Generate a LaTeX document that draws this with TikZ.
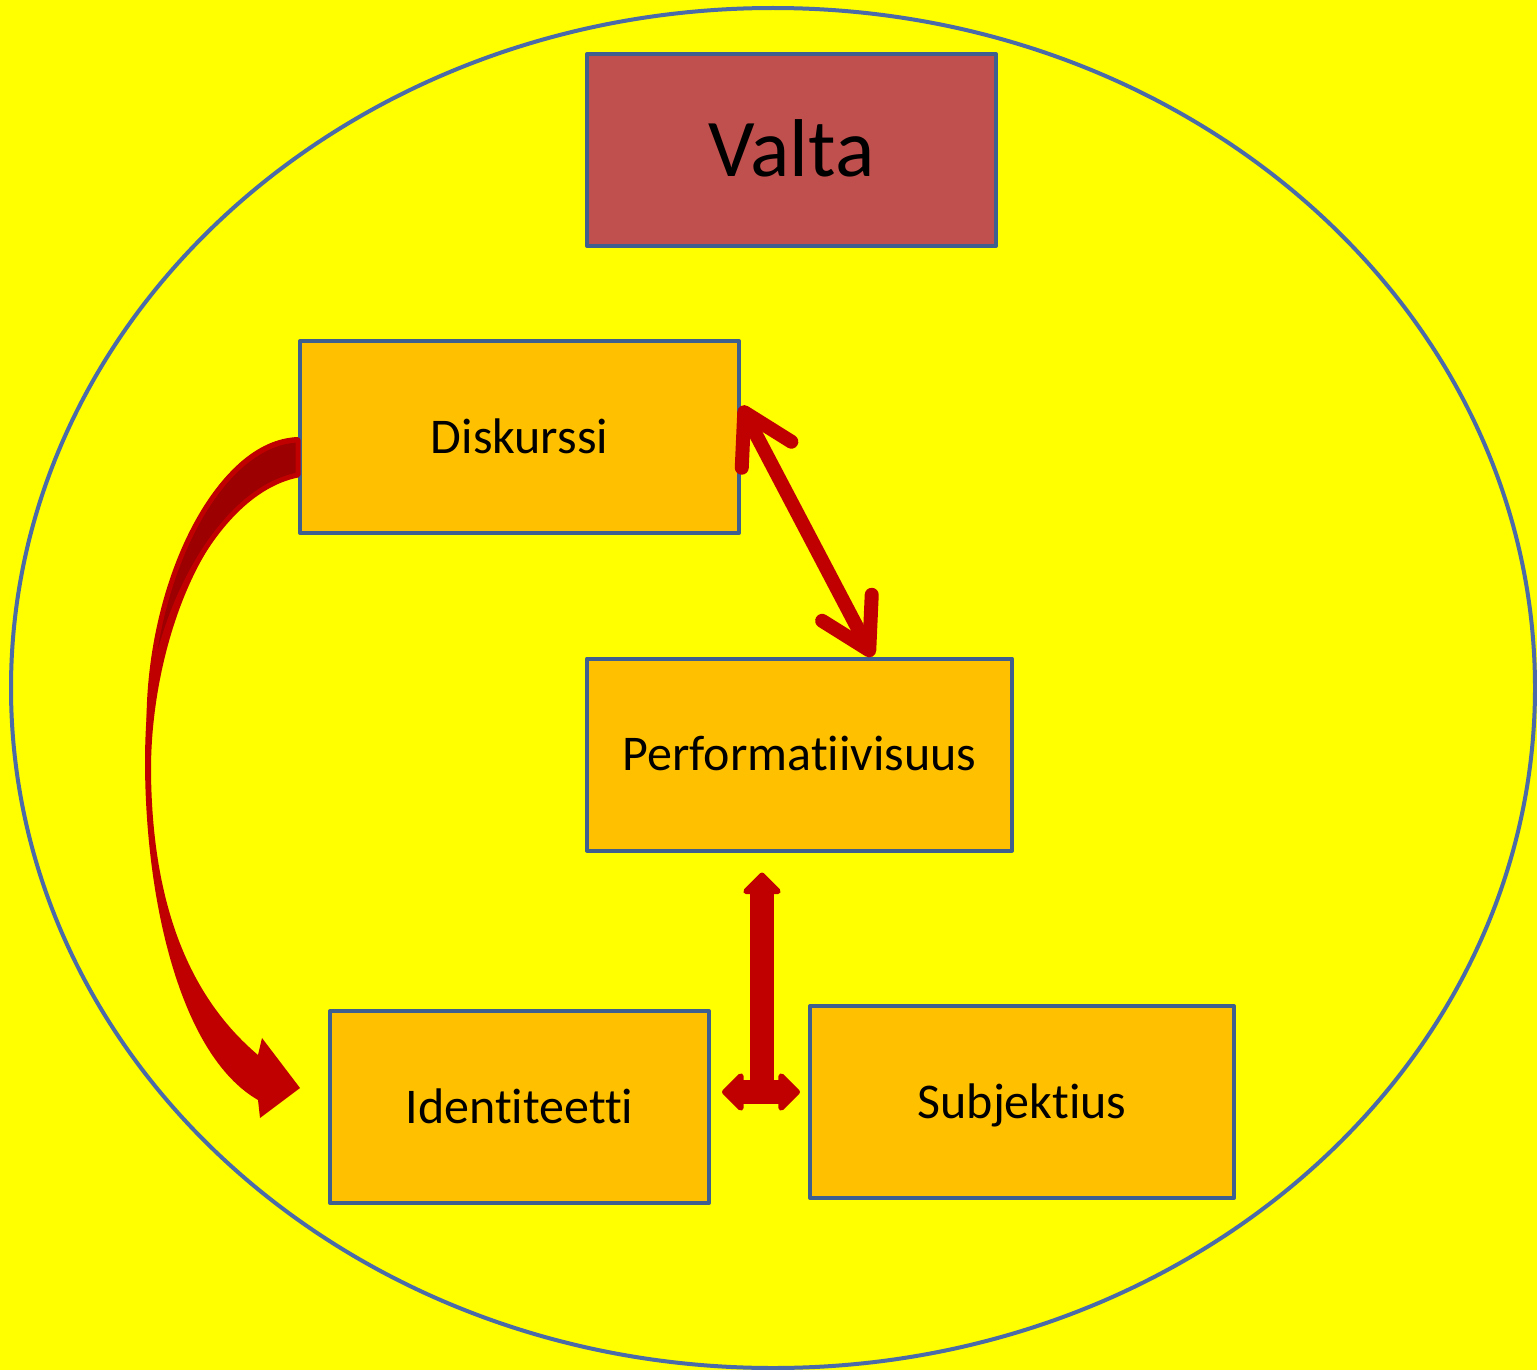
\documentclass[tikz,border=0pt]{standalone}
\usepackage{fontspec}
\setmainfont[Ligatures=NoCommon]{Carlito}
\usetikzlibrary{arrows.meta}
\definecolor{bgyellow}{HTML}{FFFF00}
\definecolor{boxorange}{HTML}{FFC000}
\definecolor{boxred}{HTML}{C0504D}
\definecolor{edgeblue}{HTML}{3F5F8F}
\definecolor{ringblue}{HTML}{4A6AA8}
\definecolor{arrowred}{HTML}{C00000}
\definecolor{arrowdark}{HTML}{9C0000}
\tikzset{
    fathead/.tip={Triangle[length=23pt,width=44pt,round]},
    barbhead/.tip={Straight Barb[length=48pt,width=56pt,line cap=round,line join=round]}
}
\begin{document}
\begin{tikzpicture}[x=1pt,y=-1pt,line join=round,
    box/.style={draw=edgeblue,line width=4pt,fill=boxorange,inner sep=0pt,
        minimum height=192pt,text height=32.2pt,text depth=0pt,
        font=\fontsize{50}{60}\selectfont},
    ring/.style={draw=ringblue,line width=4pt},
    barbarrow/.style={arrowred,line width=14pt,{barbhead}-{barbhead}},
    fatarrow/.style={arrowred,line width=24pt}]
    %% background and ring
    \fill[bgyellow] (0,0) rectangle (1537,1370);
    \useasboundingbox (0,0) rectangle (1537,1370);
    \draw[ring] (773,688) ellipse [x radius=762, y radius=680];
    %% boxes
    \node[box,fill=boxred,minimum width=409pt,text height=52.8pt,
        font=\fontsize{82}{96}\selectfont] (valta) at (791.5,150) {Valta};
    \node[box,minimum width=439pt] (disk) at (519.5,437) {Diskurssi};
    \node[box,minimum width=425pt] (perf) at (799.5,754.5) {Performatiivisuus};
    \node[box,minimum width=379pt] (ident) at (519.5,1107) {Identiteetti};
    \node[box,minimum width=424pt] (subj) at (1022,1102) {Subjektius};
    %% arrows
    \coordinate (dtip) at ([yshift=31pt]disk.east);
    \coordinate (ptip) at ([xshift=73pt]perf.north);
    \draw[barbarrow] (dtip) -- (ptip);
    \coordinate (tjoin) at (762,1092);
    \coordinate (ttop) at ([yshift=-20pt]perf.south -| tjoin);
    \draw[fatarrow,-fathead] (tjoin) -- (ttop);
    \draw[fatarrow,fathead-fathead] ([xshift=11pt]ident.east |- tjoin) -- ([xshift=-8pt]subj.west |- tjoin);
    % curved arrow Diskurssi -> Identiteetti
    \coordinate (ctip) at ([xshift=-28pt,yshift=19pt]ident.west);
    \fill[arrowred] (disk.west) .. controls (215,440) and (146,580) .. (145,760)
        .. controls (145,900) and (180,1055) .. (258,1100) -- (260,1118) -- (ctip)
        -- (262,1038) -- (258,1055) .. controls (205,1010) and (152,930) .. (151,770)
        .. controls (151,640) and (210,490) .. ([yshift=-40pt]disk.west) -- cycle;
    \filldraw[fill=arrowdark,draw=arrowred,line width=5pt] ([yshift=-3pt]disk.west)
        .. controls (218,443) and (150,580) .. (149,720)
        .. controls (152,630) and (212,492) .. ([yshift=-38pt]disk.west) -- cycle;
\end{tikzpicture}
\end{document}
